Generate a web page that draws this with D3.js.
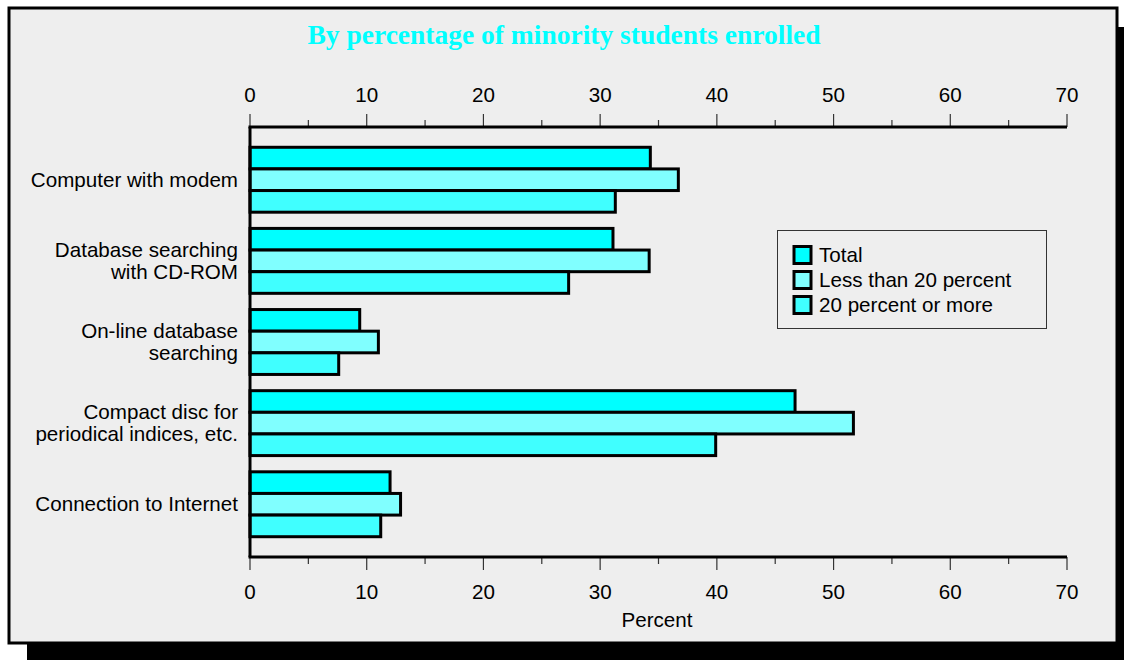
<!DOCTYPE html>
<html>
<head>
<meta charset="utf-8">
<script src="https://cdn.jsdelivr.net/npm/d3@7"></script>
<style>
  body { margin: 0; background: #fff; }
  text { font-family: Arial, "Liberation Sans", sans-serif; }
</style>
</head>
<body>
<div id="chart"></div>
<script>
const categories = [
  ["Computer with modem"],
  ["Database searching", "with CD-ROM"],
  ["On-line database", "searching"],
  ["Compact disc for", "periodical indices, etc."],
  ["Connection to Internet"]
];
const seriesNames = ["Total", "Less than 20 percent", "20 percent or more"];
const total = [34.3, 31.1, 9.4, 46.7, 12.0];
const lessThan20 = [36.7, 34.2, 11.0, 51.7, 12.9];
const twentyOrMore = [31.3, 27.3, 7.6, 39.9, 11.2];
const xTicks = [0, 10, 20, 30, 40, 50, 60, 70];
const colors = ["#00ffff", "#80ffff", "#40ffff"];

const W = 1124, H = 660;
const fs = "20.6px";
const svg = d3.select("#chart").append("svg")
  .attr("width", W).attr("height", H);

// frame with drop shadow
svg.append("rect").attr("x", 27).attr("y", 27).attr("width", W - 27).attr("height", H - 27).attr("fill", "#000");
svg.append("rect").attr("x", 9).attr("y", 8).attr("width", 1108).attr("height", 635)
  .attr("fill", "#eeeeee").attr("stroke", "#000").attr("stroke-width", 3);

svg.append("text")
  .attr("x", 564).attr("y", 44)
  .attr("text-anchor", "middle")
  .style("font-family", "'Liberation Serif', 'Times New Roman', serif")
  .style("font-weight", "bold")
  .style("font-size", "27.5px")
  .attr("fill", "#00ffff")
  .text("By percentage of minority students enrolled");

const plotL = 250, plotR = 1067, plotT = 127, plotB = 557;

const x = d3.scaleLinear().domain([0, 70]).range([plotL, plotR]);
const y = d3.scaleBand().domain(d3.range(categories.length)).range([plotT, plotB])
  .paddingInner(0.2).paddingOuter(0.25);
const ySub = d3.scaleBand().domain(d3.range(3)).range([0, y.bandwidth()]);

const rows = categories.map((c, i) => [total[i], lessThan20[i], twentyOrMore[i]]);

// bars
const g = svg.append("g");
rows.forEach((vals, i) => {
  g.selectAll(null).data(vals).enter().append("rect")
    .attr("x", x(0))
    .attr("y", (d, j) => y(i) + ySub(j))
    .attr("width", d => x(d) - x(0))
    .attr("height", ySub.bandwidth())
    .attr("fill", (d, j) => colors[j])
    .attr("stroke", "#000")
    .attr("stroke-width", 3);
});

// axes
const minor = d3.range(5, 70, 10);
function drawAxis(yPos, dir) {
  const ax = svg.append("g");
  ax.selectAll(".maj").data(xTicks).enter().append("line")
    .attr("x1", d => x(d)).attr("x2", d => x(d))
    .attr("y1", yPos).attr("y2", yPos + dir * 13)
    .attr("stroke", "#333").attr("stroke-width", 1.2);
  ax.selectAll(".min").data(minor).enter().append("line")
    .attr("x1", d => x(d)).attr("x2", d => x(d))
    .attr("y1", yPos).attr("y2", yPos + dir * 7)
    .attr("stroke", "#333").attr("stroke-width", 1.2);
  ax.selectAll("text").data(xTicks).enter().append("text")
    .attr("x", d => x(d))
    .attr("y", dir < 0 ? yPos - 25 : yPos + 42)
    .attr("text-anchor", "middle")
    .style("font-size", fs)
    .text(d => d);
  ax.append("line").attr("x1", plotL - 1.5).attr("x2", plotR)
    .attr("y1", yPos).attr("y2", yPos)
    .attr("stroke", "#000").attr("stroke-width", 3);
}
drawAxis(plotT, -1);
drawAxis(plotB, 1);
svg.append("line").attr("x1", plotL).attr("x2", plotL)
  .attr("y1", plotT).attr("y2", plotB)
  .attr("stroke", "#000").attr("stroke-width", 3);

svg.append("text").attr("x", 657).attr("y", 627)
  .attr("text-anchor", "middle").style("font-size", fs).text("Percent");

// category labels
categories.forEach((lines, i) => {
  const cy = y(i) + y.bandwidth() / 2;
  const t = svg.append("text").attr("text-anchor", "end").style("font-size", fs);
  lines.forEach((ln, k) => {
    t.append("tspan").attr("x", 238)
      .attr("y", cy + 7 + (k - (lines.length - 1) / 2) * 22)
      .text(ln);
  });
});

// legend
const lg = svg.append("g");
lg.append("rect").attr("x", 777.5).attr("y", 230.5).attr("width", 269).attr("height", 98)
  .attr("fill", "none").attr("stroke", "#333").attr("stroke-width", 1);
seriesNames.forEach((name, j) => {
  const ry = 255 + j * 25;
  lg.append("rect").attr("x", 794).attr("y", ry - 8.5).attr("width", 17).attr("height", 17)
    .attr("fill", colors[j]).attr("stroke", "#000").attr("stroke-width", 3);
  lg.append("text").attr("x", 819).attr("y", ry + 7).style("font-size", fs).text(name);
});
</script>
</body>
</html>
